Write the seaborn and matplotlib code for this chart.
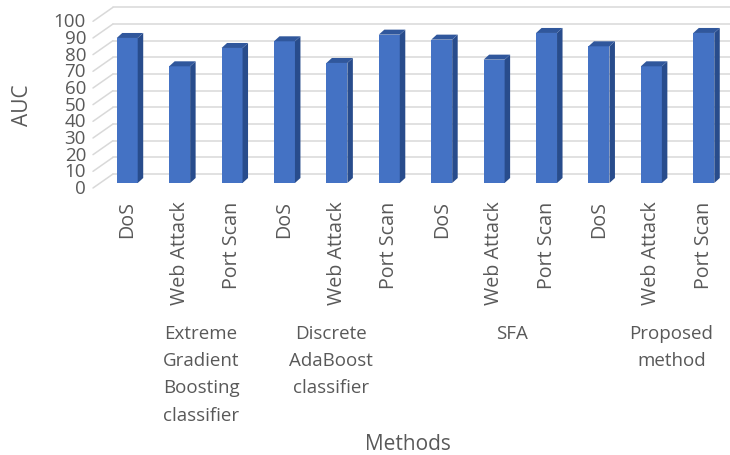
import matplotlib
matplotlib.use("Agg")
import matplotlib.pyplot as plt
from matplotlib.patches import Polygon
import seaborn as sns
import pandas as pd

# ---- data -------------------------------------------------------------
methods = ["Extreme\nGradient\nBoosting\nclassifier",
           "Discrete\nAdaBoost\nclassifier",
           "SFA",
           "Proposed\nmethod"]
attacks = ["DoS", "Web Attack", "Port Scan"]
auc_xgb = [87, 70, 81]
auc_ada = [85, 72, 89]
auc_sfa = [86, 74, 90]
auc_proposed = [82, 70, 90]
y_ticks = list(range(0, 101, 10))

rows = []
for m, vals in zip(methods, [auc_xgb, auc_ada, auc_sfa, auc_proposed]):
    for a, v in zip(attacks, vals):
        rows.append({"method": m, "attack": a, "bar": f"{m}|{a}", "auc": v})
df = pd.DataFrame(rows)

# ---- style ------------------------------------------------------------
sns.set_theme(style="white")
plt.rcParams["font.family"] = ["Open Sans", "DejaVu Sans"]
TEXT = "#595959"
GRID = "#D9D9D9"
FRONT = "#4472C4"
SIDE = "#284C8C"
TOP = "#30579C"

W, H, DPI = 730, 456, 100
fig = plt.figure(figsize=(W / DPI, H / DPI), dpi=DPI)
ax_left, ax_right, ax_bottom, ax_top = 93, 730, 184, 17.3   # pixel frame
ax = fig.add_axes([ax_left / W, (H - ax_bottom) / H,
                   (ax_right - ax_left) / W, (ax_bottom - ax_top) / H])

sns.barplot(data=df, x="bar", y="auc", order=df["bar"].tolist(),
            color=FRONT, saturation=1, width=0.4, ax=ax, zorder=3,
            linewidth=0)

xl, xr = -0.653, 11.5
ax.set_xlim(xl, xr)
ax.set_ylim(0, 100)
for s in ax.spines.values():
    s.set_visible(False)

# pixel -> data unit conversions for the oblique depth effect
px_x = (ax_right - ax_left) / (xr - xl)
px_y = (ax_bottom - ax_top) / 100.0

# floor/back-wall gridlines
back_dx, back_dy, front_dy = 20 / px_x, 9 / px_y, -5 / px_y
for v in y_ticks:
    ax.plot([xl, xl + back_dx], [v + front_dy, v + back_dy],
            color=GRID, lw=1.1, clip_on=False, zorder=0)
    ax.plot([xl + back_dx, xr], [v + back_dy, v + back_dy],
            color=GRID, lw=1.1, clip_on=False, zorder=0)
    ax.text(xl - 7 / px_x, v + front_dy, str(v), ha="right", va="center",
            fontsize=13.5, color=TEXT, clip_on=False)
ax.set_yticks([])

# side and top faces of each column
dx, dy = 5.5 / px_x, 5 / px_y
for p in list(ax.patches):
    x0 = p.get_x()
    x1 = x0 + p.get_width()
    h = p.get_height()
    side = Polygon([(x1, 0), (x1 + dx, dy), (x1 + dx, h + dy), (x1, h)],
                   closed=True, facecolor=SIDE, edgecolor="none",
                   zorder=3, clip_on=False)
    top = Polygon([(x0, h), (x1, h), (x1 + dx, h + dy), (x0 + dx, h + dy)],
                  closed=True, facecolor=TOP, edgecolor="none",
                  zorder=3, clip_on=False)
    ax.add_patch(side)
    ax.add_patch(top)

# category tick labels
ax.set_xticks(range(len(df)))
ax.set_xticklabels(df["attack"], rotation=90, fontsize=14.2, color=TEXT)
ax.tick_params(axis="x", length=0, pad=12.5)

# method group labels under each triple
group_x = [1.41, 3.89, 7.34, 10.38]
y_grp = (ax_bottom - 325) / (ax_bottom - ax_top)
trans = matplotlib.transforms.blended_transform_factory(ax.transData, ax.transAxes)
for gx, m in zip(group_x, methods):
    ax.text(gx, y_grp, m, transform=trans, ha="center", va="top",
            multialignment="center", fontsize=13.5, color=TEXT,
            linespacing=1.66)

# axis titles
ax.set_xlabel("Methods", fontsize=15, color=TEXT)
ax.xaxis.set_label_coords((408 - ax_left) / (ax_right - ax_left),
                          (ax_bottom - 445) / (ax_bottom - ax_top))
ax.xaxis.label.set_va("center")
ax.set_ylabel("AUC", fontsize=15, color=TEXT)
ax.yaxis.set_label_coords((22 - ax_left) / (ax_right - ax_left),
                          (ax_bottom - 105) / (ax_bottom - ax_top))
ax.yaxis.label.set_va("center")

fig.savefig("out.png", dpi=DPI, facecolor="white")
